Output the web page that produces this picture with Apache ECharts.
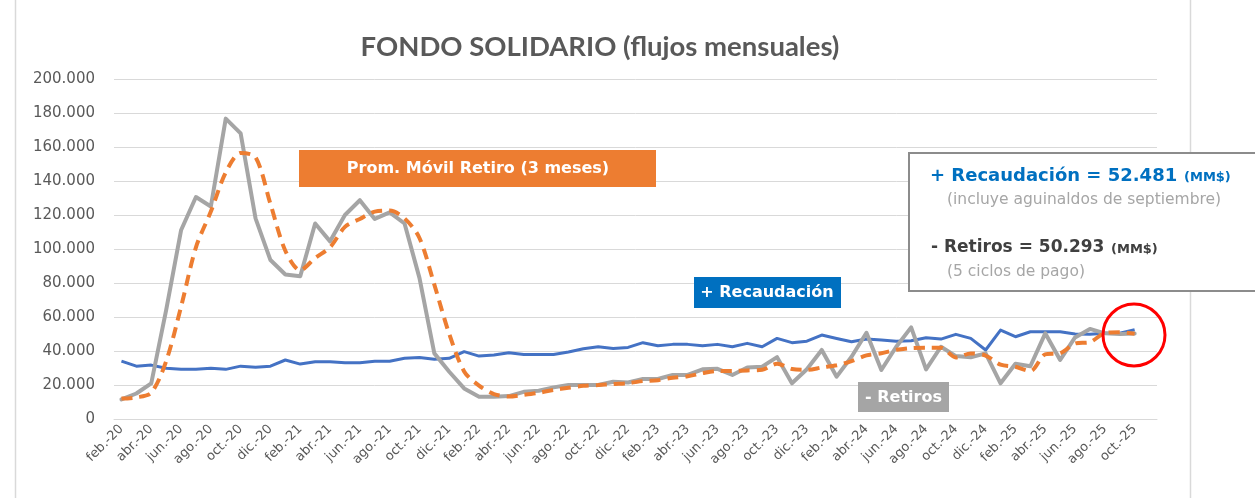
<!DOCTYPE html>
<html>
<head>
<meta charset="utf-8">
<title>Fondo Solidario</title>
<script src="https://cdn.jsdelivr.net/npm/echarts@6/dist/echarts.min.js"></script>
<style>
html, body { margin: 0; padding: 0; background: #fff; }
#container { width: 1255px; height: 498px; }
</style>
</head>
<body>
<div id="container"></div>
<script>
// meses del eje (feb-20 .. nov-25), etiqueta cada 2 meses
var mesesNombre = ['ene.', 'feb.', 'mar.', 'abr.', 'may.', 'jun.', 'jul.', 'ago.', 'sep.', 'oct.', 'nov.', 'dic.'];
var mesInicio = 1;      // febrero
var anioInicio = 2020;
var totalMeses = 70;

var yTicks = [0, 20000, 40000, 60000, 80000, 100000, 120000, 140000, 160000, 180000, 200000];

// + Recaudación (MM$)
var recaudacion = [34000, 31100, 31700, 29800, 29200, 29200, 29800, 29200, 31100, 30500,
    31100, 34700, 32300, 33700, 33700, 33100, 33100, 34000, 34000, 35700,
    36200, 35100, 35700, 39600, 37000, 37600, 39000, 38000, 38000, 38000,
    39400, 41300, 42500, 41500, 42100, 44900, 43100, 43900, 43900, 43100,
    43900, 42500, 44500, 42500, 47400, 44900, 45800, 49400, 47400, 45400,
    47000, 46400, 45800, 46000, 47800, 47000, 49800, 47400, 40600, 52300,
    48400, 51300, 51300, 51300, 50000, 49800, 50400, 50400, 52481];

// - Retiros (MM$)
var retiros = [11500, 15000, 21000, 64000, 111000, 130600, 125000, 176700, 168000, 118000,
    93500, 85000, 84000, 115000, 104500, 120000, 128700, 117700, 121500, 115000,
    83000, 38600, 27800, 18000, 13100, 13100, 13500, 16000, 16600, 18600,
    20000, 20000, 20000, 21900, 21500, 23500, 23500, 25900, 25900, 29200,
    29500, 25900, 30300, 30800, 36400, 21000, 29300, 40600, 24900, 36600,
    50700, 28800, 42500, 53900, 29200, 42500, 37000, 36300, 38600, 21000,
    32500, 31000, 50400, 34700, 48000, 53000, 50400, 50000, 50293];

// Prom. Móvil Retiro (3 meses)
var promMovil = [12000, 12700, 15500, 34000, 66000, 101000, 122000, 145000, 156500, 154000,
    126500, 99000, 87500, 94700, 101000, 113000, 117700, 122000, 122600, 118000,
    106500, 79000, 50000, 28000, 19600, 14700, 13200, 14200, 15400, 17100,
    18400, 19500, 20000, 20600, 21100, 22300, 22800, 24300, 25100, 27000,
    28200, 28200, 28600, 29000, 32500, 29400, 28900, 30300, 31600, 34000,
    37400, 38700, 40700, 41700, 41900, 41900, 36200, 38600, 37300, 32000,
    30700, 28200, 38000, 38700, 44400, 45200, 50500, 51100, 50200];

var categorias = [];
for (var i = 0; i < totalMeses; i++) {
    var m = (mesInicio + i) % 12;
    var a = anioInicio + Math.floor((mesInicio + i) / 12);
    categorias.push(mesesNombre[m] + '-' + String(a).slice(2));
}

function miles(v) {
    return String(v).replace(/\B(?=(\d{3})+(?!\d))/g, '.');
}

var gris = '#595959';
var linea = '#d9d9d9';

var option = {
    animation: false,
    backgroundColor: '#ffffff',
    grid: { left: 114, right: 98, top: 79, bottom: 79 },
    xAxis: {
        type: 'category',
        data: categorias,
        boundaryGap: true,
        axisLine: { lineStyle: { color: linea, width: 1 } },
        axisTick: { interval: 1, length: 5, lineStyle: { color: linea } },
        axisLabel: {
            interval: 1,
            rotate: 45,
            margin: 8,
            color: gris,
            fontSize: 13,
            fontFamily: 'DejaVu Sans'
        },
        splitLine: { show: false }
    },
    yAxis: {
        type: 'value',
        min: yTicks[0],
        max: yTicks[yTicks.length - 1],
        interval: yTicks[1] - yTicks[0],
        axisLine: { show: false },
        axisTick: { show: false },
        axisLabel: {
            color: gris,
            fontSize: 15,
            fontFamily: 'DejaVu Sans',
            margin: 19,
            formatter: function (v) { return miles(v); }
        },
        splitLine: { lineStyle: { color: linea, width: 1 } }
    },
    series: [
        {
            name: '+ Recaudación',
            type: 'line',
            data: recaudacion,
            showSymbol: false,
            lineStyle: { color: '#4472C4', width: 3, join: 'round' },
            z: 2
        },
        {
            name: '- Retiros',
            type: 'line',
            data: retiros,
            showSymbol: false,
            lineStyle: { color: '#A5A5A5', width: 4, join: 'round', cap: 'round' },
            z: 3
        },
        {
            name: 'Prom. Móvil Retiro (3 meses)',
            type: 'line',
            data: promMovil,
            showSymbol: false,
            smooth: 0.3,
            lineStyle: { color: '#ED7D31', width: 4, type: [11, 7] },
            z: 4
        }
    ],
    graphic: [
        // marco
        { type: 'line', shape: { x1: 15.5, y1: 0, x2: 15.5, y2: 498 }, style: { stroke: linea, lineWidth: 1.5 }, z: 1 },
        { type: 'line', shape: { x1: 1190.5, y1: 0, x2: 1190.5, y2: 498 }, style: { stroke: linea, lineWidth: 1.5 }, z: 1 },
        // título
        {
            type: 'text', x: 600, y: 47, z: 10,
            style: {
                text: 'FONDO SOLIDARIO (flujos mensuales)',
                align: 'center', verticalAlign: 'middle',
                fill: gris, font: 'bold 27.5px Lato'
            }
        },
        // etiqueta promedio móvil
        { type: 'rect', shape: { x: 299, y: 150, width: 357, height: 37 }, style: { fill: '#ED7D31' }, z: 10 },
        {
            type: 'text', x: 478, y: 169, z: 11,
            style: {
                text: 'Prom. Móvil Retiro (3 meses)', align: 'center', verticalAlign: 'middle',
                fill: '#ffffff', font: 'bold 16px "DejaVu Sans"'
            }
        },
        // etiqueta recaudación
        { type: 'rect', shape: { x: 694, y: 277, width: 147, height: 31 }, style: { fill: '#0070C0' }, z: 10 },
        {
            type: 'text', x: 767, y: 293, z: 11,
            style: {
                text: '+ Recaudación', align: 'center', verticalAlign: 'middle',
                fill: '#ffffff', font: 'bold 16px "DejaVu Sans"'
            }
        },
        // etiqueta retiros
        { type: 'rect', shape: { x: 858, y: 382, width: 91, height: 30 }, style: { fill: '#A5A5A5' }, z: 10 },
        {
            type: 'text', x: 903.5, y: 397.5, z: 11,
            style: {
                text: '- Retiros', align: 'center', verticalAlign: 'middle',
                fill: '#ffffff', font: 'bold 16px "DejaVu Sans"'
            }
        },
        // cuadro de resumen
        { type: 'rect', shape: { x: 909, y: 153, width: 380, height: 138 }, style: { fill: '#ffffff', stroke: '#8c8c8c', lineWidth: 2 }, z: 12 },
        {
            type: 'text', x: 930, y: 176, z: 13,
            style: {
                text: '+ Recaudación = 52.481', verticalAlign: 'middle',
                fill: '#0070C0', font: 'bold 18px "DejaVu Sans"'
            }
        },
        {
            type: 'text', x: 1184, y: 178, z: 13,
            style: {
                text: '(MM$)', verticalAlign: 'middle',
                fill: '#0070C0', font: 'bold 13px "DejaVu Sans"'
            }
        },
        {
            type: 'text', x: 947, y: 200, z: 13,
            style: {
                text: '(incluye aguinaldos de septiembre)', verticalAlign: 'middle',
                fill: '#a6a6a6', font: '15.5px "DejaVu Sans"'
            }
        },
        {
            type: 'text', x: 931, y: 248, z: 13,
            style: {
                text: '- Retiros = 50.293', verticalAlign: 'middle',
                fill: '#404040', font: 'bold 17px "DejaVu Sans"'
            }
        },
        {
            type: 'text', x: 1111, y: 250, z: 13,
            style: {
                text: '(MM$)', verticalAlign: 'middle',
                fill: '#404040', font: 'bold 13px "DejaVu Sans"'
            }
        },
        {
            type: 'text', x: 947, y: 272, z: 13,
            style: {
                text: '(5 ciclos de pago)', verticalAlign: 'middle',
                fill: '#a6a6a6', font: '15.5px "DejaVu Sans"'
            }
        },
        // círculo rojo
        { type: 'circle', shape: { cx: 1134, cy: 335, r: 31 }, style: { fill: 'none', stroke: '#FF0000', lineWidth: 3 }, z: 14 }
    ]
};

var myChart = echarts.init(document.getElementById('container'));
myChart.setOption(option);
</script>
</body>
</html>
